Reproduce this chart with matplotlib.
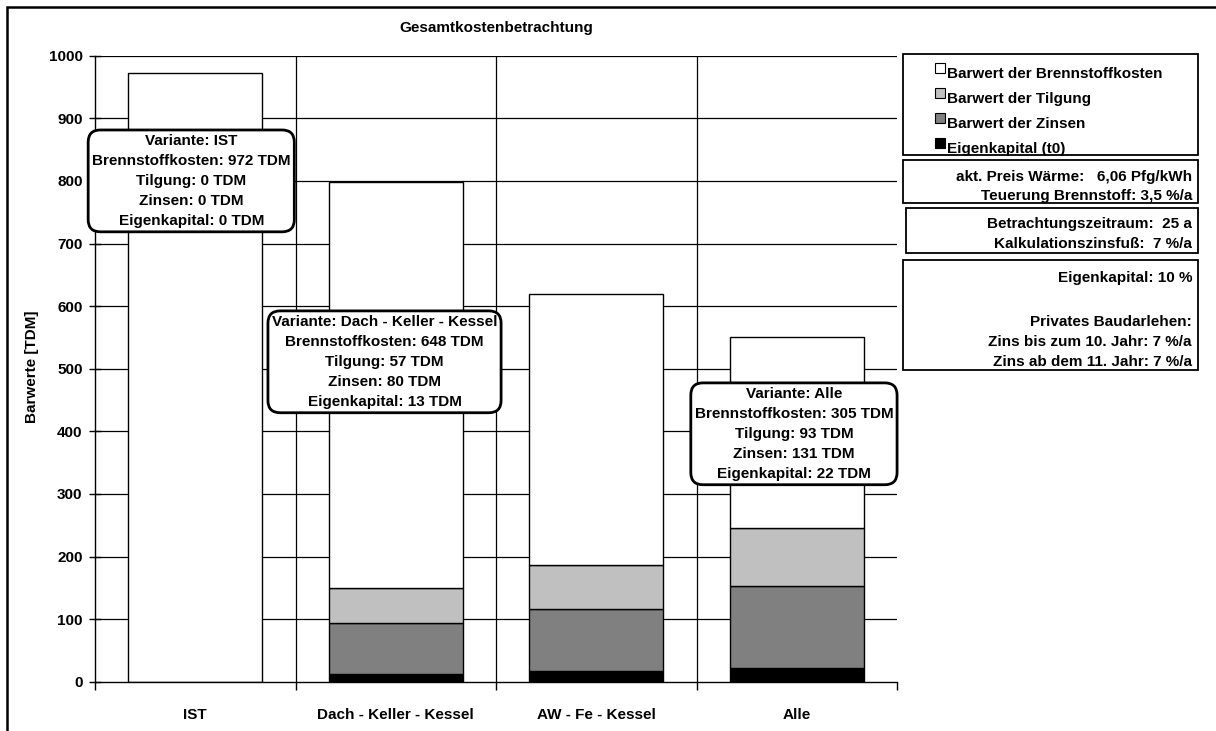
import matplotlib
matplotlib.use("Agg")
import matplotlib.pyplot as plt
from matplotlib.patches import Rectangle

plt.rcParams['font.family'] = ['Liberation Sans', 'DejaVu Sans']
plt.rcParams['font.weight'] = 'bold'

# --- data -------------------------------------------------------------
categories = ["IST", "Dach - Keller - Kessel", "AW - Fe - Kessel", "Alle"]
eigenkapital = [0, 13, 17, 22]
zinsen = [0, 80, 99, 131]
tilgung = [0, 57, 71, 93]
brennstoff = [972, 648, 432, 305]

series_names = ["Eigenkapital (t0)", "Barwert der Zinsen",
                "Barwert der Tilgung", "Barwert der Brennstoffkosten"]
series_values = [eigenkapital, zinsen, tilgung, brennstoff]
series_colors = ["#000000", "#808080", "#C0C0C0", "#FFFFFF"]

yticks = list(range(0, 1001, 100))

# labelled variants (index into categories)
label_idx = [0, 1, 3]

info_blocks = [
    ["akt. Preis Wärme:   6,06 Pfg/kWh", "Teuerung Brennstoff: 3,5 %/a"],
    ["Betrachtungszeitraum:  25 a", "Kalkulationszinsfuß:  7 %/a"],
    ["Eigenkapital: 10 %", "", "Privates Baudarlehen:",
     "Zins bis zum 10. Jahr: 7 %/a", "Zins ab dem 11. Jahr: 7 %/a"],
]

# --- figure -----------------------------------------------------------
W, H = 1216, 731
fig = plt.figure(figsize=(W / 100, H / 100), dpi=100)
fig.patch.set_facecolor("white")

def fx(px):
    return px / W

def fy(py):
    return 1 - py / H

ax = fig.add_axes([fx(95), fy(681.7), fx(897 - 95), (681.7 - 55.7) / H])

n = len(categories)
x = list(range(n))
bottoms = [0] * n
for vals, col, name in zip(series_values, series_colors, series_names):
    ax.bar(x, vals, width=0.67, bottom=bottoms, color=col, edgecolor="black",
           linewidth=1.0, zorder=3, label=name)
    bottoms = [b + v for b, v in zip(bottoms, vals)]

ax.set_xlim(-0.5, n - 0.5)
ax.set_ylim(0, 1000)

# grid
for yv in yticks[1:]:
    ax.axhline(yv, color="black", linewidth=0.9, zorder=1)
for b in range(1, n):
    ax.axvline(b - 0.5, color="black", linewidth=0.9, zorder=1)

for s in ["top", "right"]:
    ax.spines[s].set_visible(False)
for s in ["left", "bottom"]:
    ax.spines[s].set_linewidth(1.0)
    ax.spines[s].set_zorder(4)

ax.set_yticks(yticks)
ax.set_yticklabels([str(v) for v in yticks], fontsize=11, fontweight="bold")
ax.tick_params(axis="y", direction="inout", length=8, width=1.0, pad=5)

ax.set_xticks([i - 0.5 for i in range(n + 1)])
ax.set_xticklabels([])
ax.set_xticks(x, minor=True)
ax.set_xticklabels(categories, minor=True, fontsize=11, fontweight="bold")
ax.tick_params(axis="x", which="major", direction="out", length=6, width=1.0)
ax.tick_params(axis="x", which="minor", length=0, pad=19)

fig.text(fx(32), fy(367), "Barwerte [TDM]", rotation=90, ha="center",
         va="center", fontsize=11, fontweight="bold")
fig.text(fx(496), fy(28), "Gesamtkostenbetrachtung", ha="center",
         va="center", fontsize=11, fontweight="bold")

# value boxes for labelled variants
box_pos = {0: (-0.02, 800), 1: (0.944, 511), 3: (2.986, 396)}
for i in label_idx:
    txt = (f"Variante: {categories[i]}\n"
           f"Brennstoffkosten: {brennstoff[i]} TDM\n"
           f"Tilgung: {tilgung[i]} TDM\n"
           f"Zinsen: {zinsen[i]} TDM\n"
           f"Eigenkapital: {eigenkapital[i]} TDM")
    bx, by = box_pos[i]
    ax.text(bx, by, txt, ha="center", va="center", fontsize=11,
            fontweight="bold", linespacing=1.55, zorder=6,
            bbox=dict(boxstyle="round,pad=0.25,rounding_size=0.8",
                      facecolor="white", edgecolor="black", linewidth=2))

# legend box (drawn from series names/colours, top entry first)
def frame(x0, y0, x1, y1, lw=1.3):
    fig.patches.append(Rectangle((fx(x0), fy(y1)), fx(x1 - x0), (y1 - y0) / H,
                                 transform=fig.transFigure, fill=False,
                                 edgecolor="black", linewidth=lw))

frame(903, 54, 1198, 155)
leg_y = [72, 97, 122, 147]
for yy, name, col in zip(leg_y, series_names[::-1], series_colors[::-1]):
    fig.patches.append(Rectangle((fx(935), fy(yy + 1)), fx(10), 10 / H,
                                 transform=fig.transFigure, facecolor=col,
                                 edgecolor="black", linewidth=0.8))
    fig.text(fx(947), fy(yy + 2), name, ha="left", va="center",
             fontsize=11, fontweight="bold")

# info boxes
info_frames = [(903, 160, 1198, 203), (906, 208, 1198, 253), (903, 260, 1198, 370)]
info_lines_y = [[177, 196], [224, 244], [278, 300, 322, 342, 362]]
for (x0, y0, x1, y1), lines, ys in zip(info_frames, info_blocks, info_lines_y):
    frame(x0, y0, x1, y1)
    for line, yy in zip(lines, ys):
        if line:
            fig.text(fx(1192), fy(yy), line, ha="right", va="center",
                     fontsize=11, fontweight="bold")

# outer border
fig.patches.append(Rectangle((fx(7), -0.1), 1.2, fy(7) + 0.1,
                             transform=fig.transFigure, fill=False,
                             edgecolor="black", linewidth=1.8))

fig.savefig("out.png", dpi=100, facecolor="white")
